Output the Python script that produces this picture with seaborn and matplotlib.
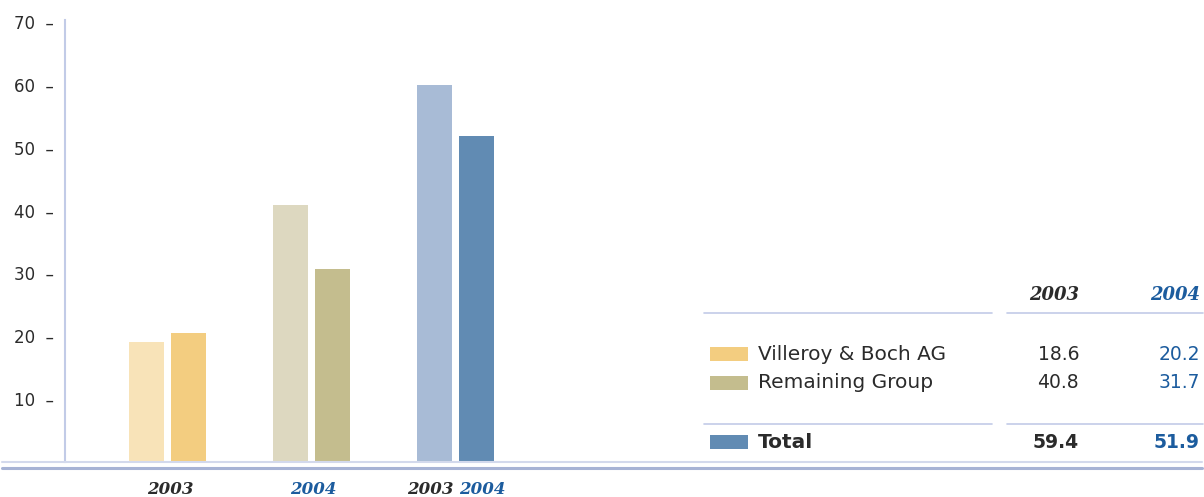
import matplotlib
matplotlib.use("Agg")
import matplotlib.pyplot as plt
import matplotlib.transforms as mtransforms
from matplotlib.lines import Line2D
from matplotlib.patches import Rectangle
import pandas as pd
import seaborn as sns

# data
categories = ["Villeroy & Boch AG", "Remaining Group", "Total"]
years = ["2003", "2004"]
table_2003 = ["18.6", "40.8", "59.4"]
table_2004 = ["20.2", "31.7", "51.9"]
# bar heights as drawn in the chart
bars_2003 = [19.1, 40.9, 60.0]
bars_2004 = [20.5, 30.7, 51.9]
yticks = [10, 20, 30, 40, 50, 60, 70]

colors_2003 = ["#f8e3b8", "#ddd8c0", "#a8bbd6"]
colors_2004 = ["#f3cd80", "#c4bd8e", "#618bb3"]
dark = "#2b2b2b"
blue = "#1c5c9e"
rule = "#c2cbe7"

W, H = 1204, 497

def px(x, y):
    return x / W, 1 - y / H

df = pd.DataFrame({
    "category": categories * 2,
    "year": ["2003"] * 3 + ["2004"] * 3,
    "value": bars_2003 + bars_2004,
})

sns.set_style("white")
plt.rcParams["font.family"] = ["DejaVu Sans"]

fig = plt.figure(figsize=(W / 100, H / 100), dpi=100)
ax = fig.add_axes([65 / W, 35 / H, (W - 65) / W, 442 / H])

sns.barplot(data=df, x="category", y="value", hue="year", order=categories,
            hue_order=years, width=0.58, gap=0.15, linewidth=0,
            legend=False, ax=ax)
for cont, cols in zip(ax.containers, [colors_2003, colors_2004]):
    for bar, c in zip(cont, cols):
        bar.set_facecolor(c)
        bar.set_edgecolor("none")

ax.set_ylim(0, 70.3)
ax.set_xlim(-0.712, 7.2)
ax.set_yticks(yticks)
ax.set_yticklabels([f"{v}  \u2013" for v in yticks], fontsize=12, color=dark)
ax.tick_params(axis="y", length=0, pad=8)
ax.set_xticks([])
ax.set_xlabel("")
ax.set_ylabel("")
for s in ["top", "right", "bottom"]:
    ax.spines[s].set_visible(False)
ax.spines["left"].set_color(rule)
ax.spines["left"].set_linewidth(1.5)

# year labels below bars
trans = mtransforms.blended_transform_factory(ax.transData, fig.transFigure)
yfont = dict(family="DejaVu Serif", style="italic", weight="bold", fontsize=12,
             ha="center", va="center", transform=trans)
ax.text(0.02, 1 - 489 / H, "2003", color=dark, **yfont)
ax.text(1.01, 1 - 489 / H, "2004", color=blue, **yfont)
ax.text(1.823, 1 - 489 / H, "2003", color=dark, **yfont)
ax.text(2.19, 1 - 489 / H, "2004", color=blue, **yfont)

# baseline rules
fig.add_artist(Line2D([2 / W, 1202 / W], [1 - 461.5 / H] * 2, color="#d3d9ec", lw=1.5))
fig.add_artist(Line2D([2 / W, 1202 / W], [1 - 468 / H] * 2, color="#a7b3d5", lw=2.2))

# table on the right
hfont = dict(family="DejaVu Serif", style="italic", weight="bold", fontsize=13,
             ha="right", va="center")
fig.text(*px(1079, 295), "2003", color=dark, **hfont)
fig.text(*px(1200, 295), "2004", color=blue, **hfont)
for yy in [312.5, 423.5]:
    fig.add_artist(Line2D([704 / W, 992 / W], [1 - yy / H] * 2, color=rule, lw=1.2))
    fig.add_artist(Line2D([1007 / W, 1203 / W], [1 - yy / H] * 2, color=rule, lw=1.2))

rows_y = [354, 383, 442]
for i, (cat, a, b) in enumerate(zip(categories, table_2003, table_2004)):
    y = rows_y[i]
    wt = "bold" if cat == "Total" else "normal"
    x0, y0 = px(710, y + 7)
    fig.add_artist(Rectangle((x0, y0), 38 / W, 14 / H, facecolor=colors_2004[i],
                             edgecolor="none", transform=fig.transFigure))
    fig.text(*px(758, y), cat, fontsize=14.5, color=dark, weight=wt, va="center")
    fig.text(*px(1079, y), a, fontsize=13.5, color=dark, weight=wt, va="center", ha="right")
    fig.text(*px(1200, y), b, fontsize=13.5, color=blue, weight=wt, va="center", ha="right")

fig.savefig("out.png", dpi=100)
